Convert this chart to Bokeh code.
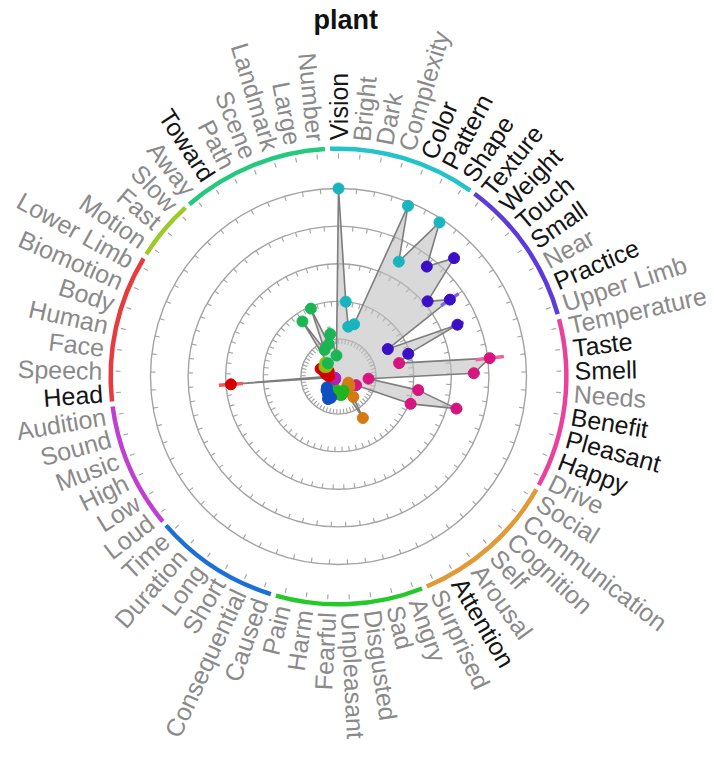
import numpy as np
from bokeh.plotting import figure
from bokeh.models import Range1d
from bokeh.core.properties import value
from bokeh.embed import file_html
from bokeh.resources import INLINE

chart_title = "plant"

features = ["Vision", "Bright", "Dark", "Complexity", "Color", "Pattern", "Shape",
            "Texture", "Weight", "Touch", "Small", "Near", "Practice", "Upper Limb",
            "Temperature", "Taste", "Smell", "Needs", "Benefit", "Pleasant", "Happy", "Drive",
            "Social", "Communication", "Cognition", "Self", "Arousal", "Attention", "Surprised",
            "Angry", "Sad", "Disgusted", "Unpleasant", "Fearful", "Harm", "Pain",
            "Caused", "Consequential", "Short", "Long", "Duration", "Time",
            "Loud", "Low", "High", "Music", "Sound", "Audition",
            "Head", "Speech", "Face", "Human", "Body", "Biomotion", "Lower Limb",
            "Motion", "Fast", "Slow",
            "Away", "Toward", "Path", "Scene", "Landmark", "Large", "Number"]

ratings = [5.0, 2.0, 1.35, 1.45, 4.9, 3.45, 4.9,
           3.75, 4.4, 3.1, 3.6, 1.5, 3.45, 1.95,
           1.65, 4.05, 3.6, 0.8, 2.15, 3.25, 2.05, 0.52,
           0.31, 0.35, 0.4, 0.35, 0.67, 1.28, 0.45,
           0.4, 0.45, 0.5, 0.48, 0.42, 0.4, 0.35,
           0.6, 0.66, 0.55, 0.5, 0.48, 0.42,
           0.12, 0.1, 0.1, 0.1, 0.12, 0.15,
           2.87, 0.25, 0.3, 0.35, 0.4, 0.52, 0.3,
           0.45, 0.4, 0.51,
           0.45, 1.75, 0.8, 1.95, 0.9, 1.15, 0.56]

errors = [0.1, 0.1, 0.08, 0.08, 0.1, 0.1, 0.12,
          0.1, 0.12, 0.1, 0.28, 0.08, 0.18, 0.08,
          0.08, 0.38, 0.15, 0.08, 0.1, 0.16, 0.1, 0.08,
          0.05, 0.05, 0.05, 0.05, 0.08, 0.1, 0.05,
          0.05, 0.05, 0.05, 0.05, 0.05, 0.05, 0.05,
          0.05, 0.05, 0.05, 0.05, 0.05, 0.05,
          0.03, 0.03, 0.03, 0.03, 0.03, 0.03,
          0.32, 0.05, 0.05, 0.05, 0.05, 0.06, 0.05,
          0.05, 0.05, 0.05,
          0.05, 0.1, 0.08, 0.1, 0.08, 0.2, 0.06]

dark_labels = ["Vision", "Color", "Pattern", "Shape", "Texture", "Weight", "Touch", "Small",
               "Practice", "Taste", "Smell", "Benefit", "Pleasant", "Happy", "Attention",
               "Head", "Toward"]

group_sizes = [7, 7, 8, 7, 7, 6, 6, 7, 3, 7]
arc_colors = ["#22c3c9", "#5b3bd9", "#ea419b", "#e29a38", "#25c92a",
              "#1c6fd8", "#c03fd3", "#e93a3d", "#9dc92b", "#23c97c"]
point_colors = ["#18b5bf", "#3a0fc6", "#d6157e", "#d47a12", "#1fb51f",
                "#0f4fc2", "#b21fb9", "#d40000", "#8bbf12", "#1ab653"]
err_colors = ["#5fd6dc", "#7a62ea", "#f0609f", "#eba850", "#6ddc6d",
              "#5a8ee6", "#d070df", "#f0585a", "#b8da5a", "#60d898"]

# ---------------- geometry ----------------
N = len(features)
step = 2 * np.pi / N
theta = np.arange(N) * step          # clockwise from top
phi = np.pi / 2 - theta               # math angle
v = np.array(ratings)
e = np.array(errors)

grp = np.repeat(np.arange(len(group_sizes)), group_sizes)
pcol = [point_colors[g] for g in grp]
ecol = [err_colors[g] for g in grp]

W, H = 714, 760
u = 37.6
cx, cy = 338, 376
p = figure(width=W, height=H, output_backend="svg", toolbar_location=None,
           x_range=Range1d(-cx / u, (W - cx) / u), y_range=Range1d(-(H - cy) / u, cy / u),
           x_axis_type=None, y_axis_type=None, min_border=0, outline_line_color=None)
p.xgrid.visible = False
p.ygrid.visible = False

ring_color = "#a3a3a3"
# grid rings
rings = [1, 2, 3, 4, 5]
p.circle(x=[0] * len(rings), y=[0] * len(rings), radius=rings, fill_color=None,
         line_color=ring_color, line_width=1.4)

# ticks (inward) on rings and inside outer arc
tick_len = 0.13
x0s, y0s, x1s, y1s = [], [], [], []
for r in rings + [5.93]:
    for a in phi:
        x0s.append(r * np.cos(a)); y0s.append(r * np.sin(a))
        x1s.append((r - tick_len) * np.cos(a)); y1s.append((r - tick_len) * np.sin(a))
p.segment(x0=x0s, y0=y0s, x1=x1s, y1=y1s, line_color=ring_color, line_width=1.1)

# outer group arcs
R_arc = 6.06
gap = np.deg2rad(0.65)
starts, ends = [], []
idx = 0
for s in group_sizes:
    t_a = idx * step - step / 2 + gap
    t_b = (idx + s - 1) * step + step / 2 - gap
    starts.append(np.pi / 2 - t_b)
    ends.append(np.pi / 2 - t_a)
    idx += s
p.arc(x=[0] * len(group_sizes), y=[0] * len(group_sizes), radius=R_arc,
      start_angle=starts, end_angle=ends, line_color=arc_colors, line_width=4.5)

# data polygon
xs = v * np.cos(phi)
ys = v * np.sin(phi)
p.patch(x=list(xs) + [xs[0]], y=list(ys) + [ys[0]], fill_color="#c0c0c0", fill_alpha=0.6,
        line_color="#7d7d7d", line_width=1.6)

# error bars
p.segment(x0=(v - e) * np.cos(phi), y0=(v - e) * np.sin(phi),
          x1=(v + e) * np.cos(phi), y1=(v + e) * np.sin(phi),
          line_color=ecol, line_width=3.5)

# points
p.scatter(x=xs, y=ys, size=11, fill_color=pcol, line_color=pcol, line_width=1)

# labels
R_lab = 6.28
lab_col = ["#151515" if f in dark_labels else "#8a8a8a" for f in features]
right = [i for i in range(N) if theta[i] < np.pi]
left = [i for i in range(N) if theta[i] >= np.pi]
for ids, align, off in ((right, "left", 0.0), (left, "right", np.pi)):
    p.text(x=[R_lab * np.cos(phi[i]) for i in ids], y=[R_lab * np.sin(phi[i]) for i in ids],
           text=[features[i] for i in ids], angle=[phi[i] + off for i in ids],
           text_color=[lab_col[i] for i in ids], text_align=align, text_baseline="middle",
           text_font=value("Liberation Sans"), text_font_size=value("25px"))

# title
p.text(x=[0.19], y=[9.47], text=[chart_title], text_align="center", text_baseline="alphabetic",
       text_font=value("Liberation Sans"), text_font_style="bold",
       text_font_size=value("27px"), text_color="#111111")

open("out.html", "w").write(file_html(p, INLINE))
